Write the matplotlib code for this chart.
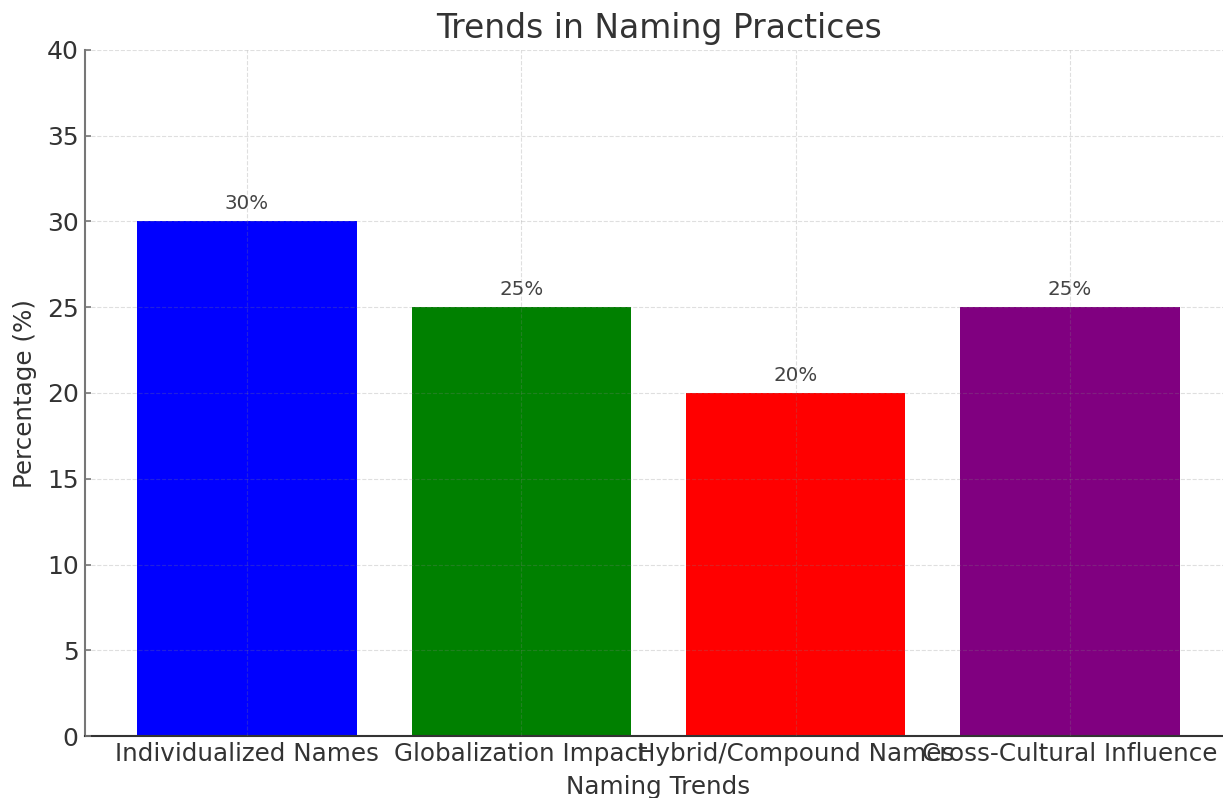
import matplotlib
matplotlib.use("Agg")
import matplotlib.pyplot as plt

categories = ["Individualized Names", "Globalization Impact", "Hybrid/Compound Names", "Cross-Cultural Influence"]
values = [30, 25, 20, 25]
colors = ["blue", "green", "red", "purple"]
yticks = [0, 5, 10, 15, 20, 25, 30, 35, 40]

plt.rcParams['font.family'] = ['DejaVu Sans']
fig = plt.figure(figsize=(12.23, 7.98), dpi=100)
ax = fig.add_axes([85/1223, 62/798, (1232-85)/1223, (736-50)/798])

bars = ax.bar(categories, values, color=colors, width=0.8, zorder=2)
for b, v in zip(bars, values):
    ax.annotate(f"{v}%", (b.get_x() + b.get_width()/2, v), xytext=(0, 6),
                textcoords="offset points", ha="center", va="bottom",
                fontsize=14.3, color="#444444")

ax.set_ylim(0, 40)
ax.set_yticks(yticks)
ax.grid(True, linestyle="--", color="gray", alpha=0.25, linewidth=0.8, zorder=3)
ax.set_axisbelow(False)
for s in ["top", "right"]:
    ax.spines[s].set_visible(False)
ax.spines["left"].set_color("#777777")
ax.spines["left"].set_linewidth(1.5)
ax.spines["bottom"].set_color("#333333")
ax.spines["bottom"].set_linewidth(1.5)
ax.tick_params(axis="y", labelsize=18, colors="#777777", direction="in", length=4, width=1.2, pad=4.5)
ax.tick_params(axis="x", labelsize=17.7, colors="#444444", length=0, pad=4)
for t in ax.get_xticklabels() + ax.get_yticklabels():
    t.set_color("#333333")
ax.set_title("Trends in Naming Practices", fontsize=23.7, color="#333333", pad=8.6)
ax.set_xlabel("Naming Trends", fontsize=17.7, color="#333333", labelpad=6.5)
ax.set_ylabel("Percentage (%)", fontsize=17.7, color="#333333", labelpad=7)

fig.savefig("out.png", dpi=100)
